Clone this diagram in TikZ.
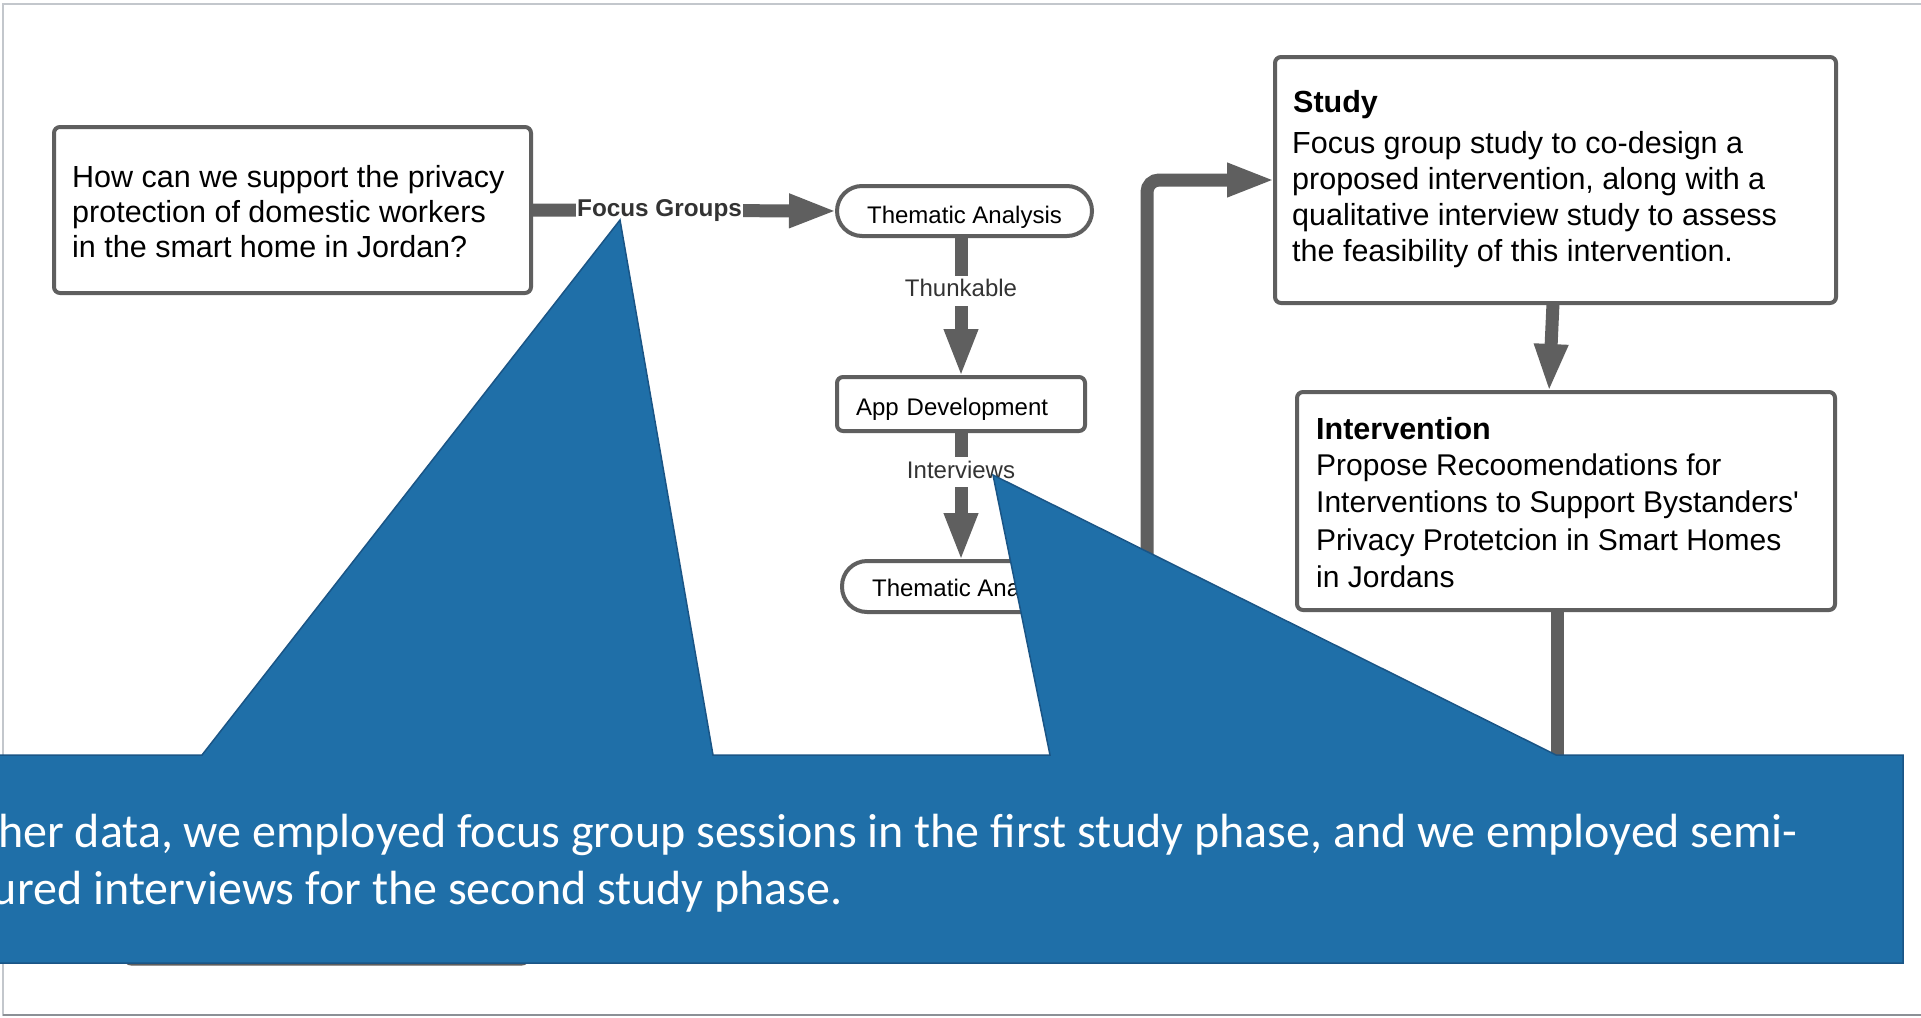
\documentclass[tikz,border=0pt]{standalone}
\usepackage{fontspec}
\setmainfont{Liberation Sans}[Ligatures=TeXOff]
\newfontfamily\calloutfont{Carlito}
\usetikzlibrary{arrows.meta}

\definecolor{linegray}{HTML}{5F5F5F}
\definecolor{labelgray}{HTML}{333333}
\definecolor{calloutblue}{HTML}{1F6FA8}
\definecolor{calloutedge}{HTML}{1A5586}
\definecolor{frametop}{HTML}{C3C7CC}
\definecolor{framebottom}{HTML}{8C9096}

\tikzset{
  box/.style={draw=linegray, line width=4pt, rounded corners=6pt, fill=white,
              inner sep=0pt, outer sep=0pt},
  term/.style={draw=linegray, line width=4pt, rounded corners=25pt, fill=white,
               inner sep=0pt, outer sep=0pt, text depth=0pt,
               font=\fontsize{24}{28}\selectfont},
  flow/.style={draw=linegray, line width=13pt, -{Triangle[length=48pt,width=31pt]}},
  plain/.style={draw=linegray, line width=13pt},
  edgelabel/.style={fill=white, text=labelgray, inner xsep=1pt, inner ysep=4pt,
                    text height=17pt, text depth=5pt, font=\fontsize{24}{28}\selectfont},
  bodytext/.style={inner sep=0pt, align=left, anchor=north west},
  headtext/.style={inner sep=0pt, anchor=base west, font=\bfseries\fontsize{30.5}{35}\selectfont},
  calloutline/.style={inner sep=0pt, anchor=base east, text=white,
                      font=\calloutfont\fontsize{48}{57}\selectfont}
}

\begin{document}
\begin{tikzpicture}[x=1pt, y=-1pt]
  \useasboundingbox (0,0) rectangle (1921,1017);
  \fill[white] (0,0) rectangle (1921,1017);

  % window frame
  \draw[frametop, line width=2pt] (3,1016) -- (3,4) -- (1921,4);
  \draw[framebottom, line width=2pt] (3,1015) -- (1921,1015);

  % research question
  \node[box, minimum width=477pt, minimum height=166pt] (question) at (292.5,210) {};
  \node[bodytext, font=\fontsize{30.5}{35}\selectfont] (questiontext) at (72,165.2)
    {How can we support the privacy\\protection of domestic workers\\in the smart home in Jordan?};

  % first study phase
  \node[term, text height=24.6pt, minimum width=255pt, minimum height=50pt] (thematicA) at (964.5,211) {Thematic Analysis};
  \node[box, minimum width=248pt, minimum height=54pt, text width=210pt, align=left,
        inner xsep=19pt, text height=22pt, text depth=0pt,
        font=\fontsize{24}{28}\selectfont] (appdev) at (961,404) {App Development};
  \node[term, text height=20.4pt, minimum width=255pt, minimum height=51pt] (thematicB) at (969.5,586.5) {Thematic Analysis};

  % box at the bottom left
  \node[box, line width=3pt, minimum width=403pt, minimum height=174pt] (lowerbox) at (326.5,877) {};

  % study and intervention
  \node[box, minimum width=561pt, minimum height=246pt] (study) at (1555.5,180) {};
  \node[headtext] (studyhead) at (1293,112) {Study};
  \node[bodytext, font=\fontsize{30.5}{36}\selectfont] (studybody) at (1292,131.2)
    {Focus group study to co-design a\\proposed intervention, along with a\\qualitative interview study to assess\\the feasibility of this intervention.};

  \node[box, minimum width=538pt, minimum height=218pt] (interv) at (1566,501) {};
  \node[headtext] (intervhead) at (1316,439.5) {Intervention};
  \node[bodytext, font=\fontsize{30}{37.5}\selectfont] (intervbody) at (1316,453.5)
    {Propose Recoomendations for\\Interventions to Support Bystanders'\\Privacy Protetcion in Smart Homes\\in Jordans};

  % connectors
  \draw[flow] (question.east) -- node[edgelabel, pos=0.42, font=\bfseries\fontsize{24.3}{28}\selectfont] (fglabel) {Focus Groups} (thematicA.west);
  \draw[flow] (thematicA.south -| appdev.north) -- node[edgelabel, pos=0.388] (thlabel) {Thunkable} (appdev.north);
  \draw[flow] (appdev.south) -- node[edgelabel, pos=0.318] (ivlabel) {Interviews} (appdev.south |- thematicB.north);
  \draw[flow] ([xshift=-2.5pt]study.south) -- ([xshift=-17pt]interv.north);

  \coordinate (loopstart) at (1147,800);
  \draw[flow, rounded corners=12pt] (loopstart) |- (study.west);

  \coordinate (intervdown) at (1557,800);
  \draw[plain] (interv.south -| intervdown) -- (intervdown);

  % callout with two pointers
  \draw[fill=calloutblue, draw=calloutedge, line width=1.5pt, line join=miter]
    (-10,755) -- (202,755) -- (620,220) -- (713,755) -- (1050,755) -- (993,475)
    -- (1556,755) -- (1903,755) -- (1903,963) -- (-10,963) -- cycle;
  \node[calloutline] (calloutA) at (1798,847)
    {her data, we employed focus group sessions in the first study phase, and we employed semi-};
  \node[calloutline] (calloutB) at (843,904)
    {ured interviews for the second study phase.};
\end{tikzpicture}
\end{document}
